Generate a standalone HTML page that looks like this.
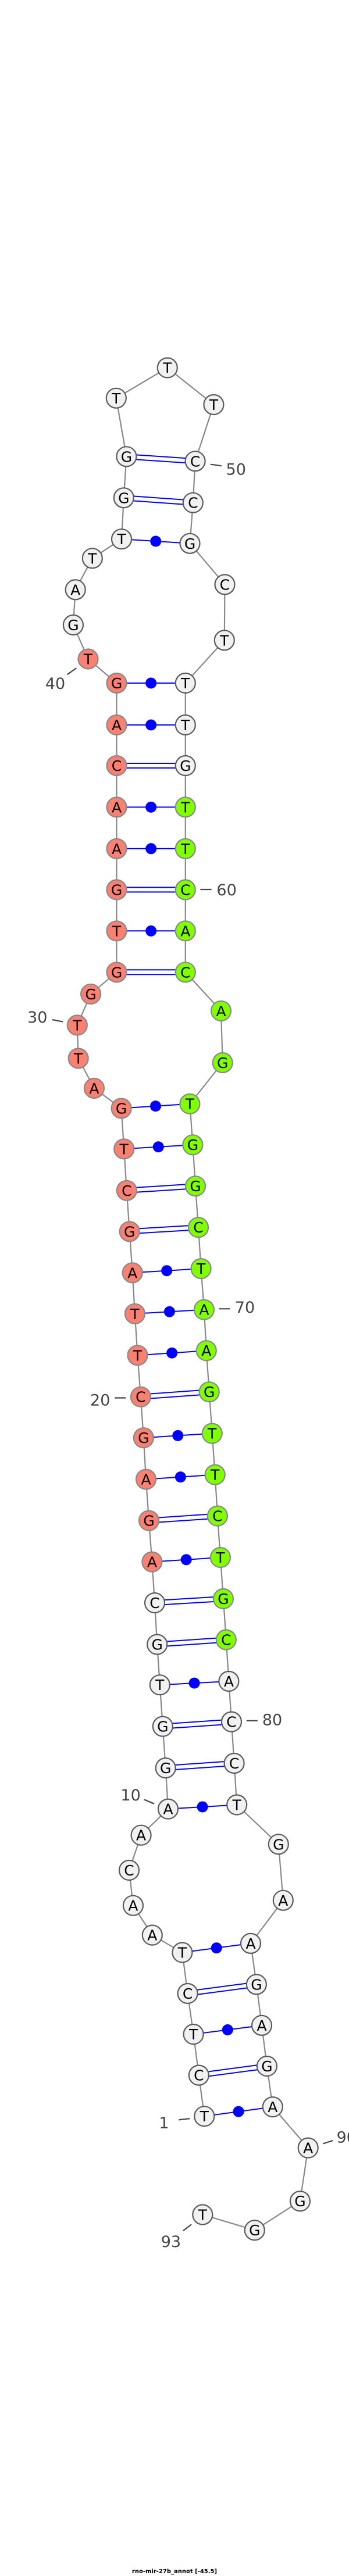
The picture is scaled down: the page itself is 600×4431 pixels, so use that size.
<!DOCTYPE html>
<html><head><meta charset="utf-8"><style>
html,body{margin:0;padding:0;background:#fff;}
svg{display:block;}
.bb{fill:none;stroke:#888;stroke-width:2.2;}
.p{stroke:#0000ff;stroke-width:2;}
.d{fill:#0000ff;}
.w{fill:#f1f1f1;stroke:#5a5a5a;stroke-width:2.2;}
.r{fill:#fa8072;stroke:#888;stroke-width:2.2;}
.g{fill:#7fff00;stroke:#888;stroke-width:2.2;}
.t{font-family:"DejaVu Sans","Liberation Sans",sans-serif;font-size:25px;text-anchor:middle;fill:#000;}
.l{font-family:"DejaVu Sans","Liberation Sans",sans-serif;font-size:27px;text-anchor:middle;fill:#444;}
.k{stroke:#444;stroke-width:2.2;}
.ti{font-family:"DejaVu Sans","Liberation Sans",sans-serif;font-size:10px;font-weight:bold;text-anchor:middle;fill:#000;}
</style></head><body>
<svg width="600" height="4431" viewBox="0 0 600 4431" xmlns="http://www.w3.org/2000/svg">
<polyline class="bb" points="351.3,3640.2 341.8,3569.6 332.6,3499.1 322.6,3429 313.4,3358.5 261.8,3328.6 228.9,3277.7 222,3217 242.6,3156.7 289,3111.6 284.7,3041.1 279.8,2969.6 274.8,2898.2 270.2,2828.6 266,2757.1 261.4,2686.6 256,2615.6 251,2544.6 246.8,2473.2 241.9,2402.7 236.5,2331.3 231.9,2259.8 227.7,2189.3 222.7,2118.3 217.8,2047.8 213.2,1976.3 208.6,1906.5 161.9,1871.9 134.7,1820.5 132.8,1763.4 156.1,1709.8 200.5,1672.3 200.5,1601.3 200.5,1530.4 200.5,1459.8 200.5,1388.4 200.5,1317 200.5,1247 200.5,1175 151.5,1133.5 125.9,1075 129.7,1014.3 158.8,960.3 209,927.2 212.8,856.3 217.4,785.3 199.8,684.8 287.8,632.6 367.4,696 335.6,793.3 331.8,864.7 326.5,934.8 386.5,1005.4 385.8,1101.3 318.8,1175 318.8,1247 318.8,1317 318.8,1388.4 318.8,1459.8 318.8,1530.4 318.8,1601.3 318.8,1672.3 380,1738.8 382.7,1828 326.4,1898.7 331.4,1969.2 336,2040.2 341,2111.2 345.6,2182.1 350.9,2252.7 354.8,2323.2 359.7,2394.2 364.7,2465.6 369.7,2536.6 373.9,2607.6 378.9,2679 383.9,2750 388.8,2820.5 393.4,2892 398,2961.6 402.6,3033 407.2,3104.5 478.8,3172.3 486.8,3268.8 431,3342.9 440.9,3413.4 450,3483.9 458.9,3554 468.8,3624.1 529.7,3694.6 515.9,3786.2 437.8,3836.2 348.3,3809.4"/>
<!-- single pairs -->
<g class="p">
<line x1="351.3" y1="3640.2" x2="468.8" y2="3624.1"/>
<line x1="332.6" y1="3499.1" x2="450" y2="3483.9"/>
<line x1="313.4" y1="3358.5" x2="431" y2="3342.9"/>
<line x1="289" y1="3111.6" x2="407.2" y2="3104.5"/>
<line x1="274.8" y1="2898.2" x2="393.4" y2="2892"/>
<line x1="261.4" y1="2686.6" x2="378.9" y2="2679"/>
<line x1="251" y1="2544.6" x2="369.7" y2="2536.6"/>
<line x1="246.8" y1="2473.2" x2="364.7" y2="2465.6"/>
<line x1="236.5" y1="2331.3" x2="354.8" y2="2323.2"/>
<line x1="231.9" y1="2259.8" x2="350.9" y2="2252.7"/>
<line x1="227.7" y1="2189.3" x2="345.6" y2="2182.1"/>
<line x1="213.2" y1="1976.3" x2="331.4" y2="1969.2"/>
<line x1="208.6" y1="1906.5" x2="326.4" y2="1898.7"/>
<line x1="200.5" y1="1601.3" x2="318.8" y2="1601.3"/>
<line x1="200.5" y1="1459.8" x2="318.8" y2="1459.8"/>
<line x1="200.5" y1="1388.4" x2="318.8" y2="1388.4"/>
<line x1="200.5" y1="1247" x2="318.8" y2="1247"/>
<line x1="200.5" y1="1175" x2="318.8" y2="1175"/>
<line x1="209" y1="927.2" x2="326.5" y2="934.8"/>
<!-- double pairs -->
<line x1="341.8" y1="3565.6" x2="458.9" y2="3550"/><line x1="341.8" y1="3573.6" x2="458.9" y2="3558"/>
<line x1="322.6" y1="3425" x2="440.9" y2="3409.4"/><line x1="322.6" y1="3433" x2="440.9" y2="3417.4"/>
<line x1="284.7" y1="3037.1" x2="402.6" y2="3029"/><line x1="284.7" y1="3045.1" x2="402.6" y2="3037"/>
<line x1="279.8" y1="2965.6" x2="398" y2="2957.6"/><line x1="279.8" y1="2973.6" x2="398" y2="2965.6"/>
<line x1="270.2" y1="2824.6" x2="388.8" y2="2816.5"/><line x1="270.2" y1="2832.6" x2="388.8" y2="2824.5"/>
<line x1="266" y1="2753.1" x2="383.9" y2="2746"/><line x1="266" y1="2761.1" x2="383.9" y2="2754"/>
<line x1="256" y1="2611.6" x2="373.9" y2="2603.6"/><line x1="256" y1="2619.6" x2="373.9" y2="2611.6"/>
<line x1="241.9" y1="2398.7" x2="359.7" y2="2390.2"/><line x1="241.9" y1="2406.7" x2="359.7" y2="2398.2"/>
<line x1="222.7" y1="2114.3" x2="341" y2="2107.2"/><line x1="222.7" y1="2122.3" x2="341" y2="2115.2"/>
<line x1="217.8" y1="2043.8" x2="336" y2="2036.2"/><line x1="217.8" y1="2051.8" x2="336" y2="2044.2"/>
<line x1="200.5" y1="1668.3" x2="318.8" y2="1668.3"/><line x1="200.5" y1="1676.3" x2="318.8" y2="1676.3"/>
<line x1="200.5" y1="1526.4" x2="318.8" y2="1526.4"/><line x1="200.5" y1="1534.4" x2="318.8" y2="1534.4"/>
<line x1="200.5" y1="1313" x2="318.8" y2="1313"/><line x1="200.5" y1="1321" x2="318.8" y2="1321"/>
<line x1="212.8" y1="852.3" x2="331.8" y2="860.7"/><line x1="212.8" y1="860.3" x2="331.8" y2="868.7"/>
<line x1="217.4" y1="781.3" x2="335.6" y2="789.3"/><line x1="217.4" y1="789.3" x2="335.6" y2="797.3"/>
</g>
<g class="d">
<circle cx="410.05" cy="3632.15" r="9.5"/>
<circle cx="391.3" cy="3491.5" r="9.5"/>
<circle cx="372.2" cy="3350.7" r="9.5"/>
<circle cx="348.1" cy="3108" r="9.5"/>
<circle cx="334.1" cy="2895.1" r="9.5"/>
<circle cx="320.15" cy="2682.8" r="9.5"/>
<circle cx="310.35" cy="2540.6" r="9.5"/>
<circle cx="305.75" cy="2469.4" r="9.5"/>
<circle cx="295.65" cy="2327.25" r="9.5"/>
<circle cx="291.4" cy="2256.25" r="9.5"/>
<circle cx="286.65" cy="2185.7" r="9.5"/>
<circle cx="272.3" cy="1972.75" r="9.5"/>
<circle cx="267.5" cy="1902.6" r="9.5"/>
<circle cx="259.65" cy="1601.3" r="9.5"/>
<circle cx="259.65" cy="1459.8" r="9.5"/>
<circle cx="259.65" cy="1388.4" r="9.5"/>
<circle cx="259.65" cy="1247" r="9.5"/>
<circle cx="259.65" cy="1175" r="9.5"/>
<circle cx="267.75" cy="931" r="9.5"/>
</g>
<!-- nodes -->
<g>
<circle class="w" cx="351.3" cy="3640.2" r="17"/><text class="t" x="351.3" y="3649.2">T</text>
<circle class="w" cx="341.8" cy="3569.6" r="17"/><text class="t" x="341.8" y="3578.6">C</text>
<circle class="w" cx="332.6" cy="3499.1" r="17"/><text class="t" x="332.6" y="3508.1">T</text>
<circle class="w" cx="322.6" cy="3429" r="17"/><text class="t" x="322.6" y="3438">C</text>
<circle class="w" cx="313.4" cy="3358.5" r="17"/><text class="t" x="313.4" y="3367.5">T</text>
<circle class="w" cx="261.8" cy="3328.6" r="17"/><text class="t" x="261.8" y="3337.6">A</text>
<circle class="w" cx="228.9" cy="3277.7" r="17"/><text class="t" x="228.9" y="3286.7">A</text>
<circle class="w" cx="222" cy="3217" r="17"/><text class="t" x="222" y="3226">C</text>
<circle class="w" cx="242.6" cy="3156.7" r="17"/><text class="t" x="242.6" y="3165.7">A</text>
<circle class="w" cx="289" cy="3111.6" r="17"/><text class="t" x="289" y="3120.6">A</text>
<circle class="w" cx="284.7" cy="3041.1" r="17"/><text class="t" x="284.7" y="3050.1">G</text>
<circle class="w" cx="279.8" cy="2969.6" r="17"/><text class="t" x="279.8" y="2978.6">G</text>
<circle class="w" cx="274.8" cy="2898.2" r="17"/><text class="t" x="274.8" y="2907.2">T</text>
<circle class="w" cx="270.2" cy="2828.6" r="17"/><text class="t" x="270.2" y="2837.6">G</text>
<circle class="w" cx="266" cy="2757.1" r="17"/><text class="t" x="266" y="2766.1">C</text>
<circle class="r" cx="261.4" cy="2686.6" r="17"/><text class="t" x="261.4" y="2695.6">A</text>
<circle class="r" cx="256" cy="2615.6" r="17"/><text class="t" x="256" y="2624.6">G</text>
<circle class="r" cx="251" cy="2544.6" r="17"/><text class="t" x="251" y="2553.6">A</text>
<circle class="r" cx="246.8" cy="2473.2" r="17"/><text class="t" x="246.8" y="2482.2">G</text>
<circle class="r" cx="241.9" cy="2402.7" r="17"/><text class="t" x="241.9" y="2411.7">C</text>
<circle class="r" cx="236.5" cy="2331.3" r="17"/><text class="t" x="236.5" y="2340.3">T</text>
<circle class="r" cx="231.9" cy="2259.8" r="17"/><text class="t" x="231.9" y="2268.8">T</text>
<circle class="r" cx="227.7" cy="2189.3" r="17"/><text class="t" x="227.7" y="2198.3">A</text>
<circle class="r" cx="222.7" cy="2118.3" r="17"/><text class="t" x="222.7" y="2127.3">G</text>
<circle class="r" cx="217.8" cy="2047.8" r="17"/><text class="t" x="217.8" y="2056.8">C</text>
<circle class="r" cx="213.2" cy="1976.3" r="17"/><text class="t" x="213.2" y="1985.3">T</text>
<circle class="r" cx="208.6" cy="1906.5" r="17"/><text class="t" x="208.6" y="1915.5">G</text>
<circle class="r" cx="161.9" cy="1871.9" r="17"/><text class="t" x="161.9" y="1880.9">A</text>
<circle class="r" cx="134.7" cy="1820.5" r="17"/><text class="t" x="134.7" y="1829.5">T</text>
<circle class="r" cx="132.8" cy="1763.4" r="17"/><text class="t" x="132.8" y="1772.4">T</text>
<circle class="r" cx="156.1" cy="1709.8" r="17"/><text class="t" x="156.1" y="1718.8">G</text>
<circle class="r" cx="200.5" cy="1672.3" r="17"/><text class="t" x="200.5" y="1681.3">G</text>
<circle class="r" cx="200.5" cy="1601.3" r="17"/><text class="t" x="200.5" y="1610.3">T</text>
<circle class="r" cx="200.5" cy="1530.4" r="17"/><text class="t" x="200.5" y="1539.4">G</text>
<circle class="r" cx="200.5" cy="1459.8" r="17"/><text class="t" x="200.5" y="1468.8">A</text>
<circle class="r" cx="200.5" cy="1388.4" r="17"/><text class="t" x="200.5" y="1397.4">A</text>
<circle class="r" cx="200.5" cy="1317" r="17"/><text class="t" x="200.5" y="1326">C</text>
<circle class="r" cx="200.5" cy="1247" r="17"/><text class="t" x="200.5" y="1256">A</text>
<circle class="r" cx="200.5" cy="1175" r="17"/><text class="t" x="200.5" y="1184">G</text>
<circle class="r" cx="151.5" cy="1133.5" r="17"/><text class="t" x="151.5" y="1142.5">T</text>
<circle class="w" cx="125.9" cy="1075" r="17"/><text class="t" x="125.9" y="1084">G</text>
<circle class="w" cx="129.7" cy="1014.3" r="17"/><text class="t" x="129.7" y="1023.3">A</text>
<circle class="w" cx="158.8" cy="960.3" r="17"/><text class="t" x="158.8" y="969.3">T</text>
<circle class="w" cx="209" cy="927.2" r="17"/><text class="t" x="209" y="936.2">T</text>
<circle class="w" cx="212.8" cy="856.3" r="17"/><text class="t" x="212.8" y="865.3">G</text>
<circle class="w" cx="217.4" cy="785.3" r="17"/><text class="t" x="217.4" y="794.3">G</text>
<circle class="w" cx="199.8" cy="684.8" r="17"/><text class="t" x="199.8" y="693.8">T</text>
<circle class="w" cx="287.8" cy="632.6" r="17"/><text class="t" x="287.8" y="641.6">T</text>
<circle class="w" cx="367.4" cy="696" r="17"/><text class="t" x="367.4" y="705">T</text>
<circle class="w" cx="335.6" cy="793.3" r="17"/><text class="t" x="335.6" y="802.3">C</text>
<circle class="w" cx="331.8" cy="864.7" r="17"/><text class="t" x="331.8" y="873.7">C</text>
<circle class="w" cx="326.5" cy="934.8" r="17"/><text class="t" x="326.5" y="943.8">G</text>
<circle class="w" cx="386.5" cy="1005.4" r="17"/><text class="t" x="386.5" y="1014.4">C</text>
<circle class="w" cx="385.8" cy="1101.3" r="17"/><text class="t" x="385.8" y="1110.3">T</text>
<circle class="w" cx="318.8" cy="1175" r="17"/><text class="t" x="318.8" y="1184">T</text>
<circle class="w" cx="318.8" cy="1247" r="17"/><text class="t" x="318.8" y="1256">T</text>
<circle class="w" cx="318.8" cy="1317" r="17"/><text class="t" x="318.8" y="1326">G</text>
<circle class="g" cx="318.8" cy="1388.4" r="17"/><text class="t" x="318.8" y="1397.4">T</text>
<circle class="g" cx="318.8" cy="1459.8" r="17"/><text class="t" x="318.8" y="1468.8">T</text>
<circle class="g" cx="318.8" cy="1530.4" r="17"/><text class="t" x="318.8" y="1539.4">C</text>
<circle class="g" cx="318.8" cy="1601.3" r="17"/><text class="t" x="318.8" y="1610.3">A</text>
<circle class="g" cx="318.8" cy="1672.3" r="17"/><text class="t" x="318.8" y="1681.3">C</text>
<circle class="g" cx="380" cy="1738.8" r="17"/><text class="t" x="380" y="1747.8">A</text>
<circle class="g" cx="382.7" cy="1828" r="17"/><text class="t" x="382.7" y="1837">G</text>
<circle class="g" cx="326.4" cy="1898.7" r="17"/><text class="t" x="326.4" y="1907.7">T</text>
<circle class="g" cx="331.4" cy="1969.2" r="17"/><text class="t" x="331.4" y="1978.2">G</text>
<circle class="g" cx="336" cy="2040.2" r="17"/><text class="t" x="336" y="2049.2">G</text>
<circle class="g" cx="341" cy="2111.2" r="17"/><text class="t" x="341" y="2120.2">C</text>
<circle class="g" cx="345.6" cy="2182.1" r="17"/><text class="t" x="345.6" y="2191.1">T</text>
<circle class="g" cx="350.9" cy="2252.7" r="17"/><text class="t" x="350.9" y="2261.7">A</text>
<circle class="g" cx="354.8" cy="2323.2" r="17"/><text class="t" x="354.8" y="2332.2">A</text>
<circle class="g" cx="359.7" cy="2394.2" r="17"/><text class="t" x="359.7" y="2403.2">G</text>
<circle class="g" cx="364.7" cy="2465.6" r="17"/><text class="t" x="364.7" y="2474.6">T</text>
<circle class="g" cx="369.7" cy="2536.6" r="17"/><text class="t" x="369.7" y="2545.6">T</text>
<circle class="g" cx="373.9" cy="2607.6" r="17"/><text class="t" x="373.9" y="2616.6">C</text>
<circle class="g" cx="378.9" cy="2679" r="17"/><text class="t" x="378.9" y="2688">T</text>
<circle class="g" cx="383.9" cy="2750" r="17"/><text class="t" x="383.9" y="2759">G</text>
<circle class="g" cx="388.8" cy="2820.5" r="17"/><text class="t" x="388.8" y="2829.5">C</text>
<circle class="w" cx="393.4" cy="2892" r="17"/><text class="t" x="393.4" y="2901">A</text>
<circle class="w" cx="398" cy="2961.6" r="17"/><text class="t" x="398" y="2970.6">C</text>
<circle class="w" cx="402.6" cy="3033" r="17"/><text class="t" x="402.6" y="3042">C</text>
<circle class="w" cx="407.2" cy="3104.5" r="17"/><text class="t" x="407.2" y="3113.5">T</text>
<circle class="w" cx="478.8" cy="3172.3" r="17"/><text class="t" x="478.8" y="3181.3">G</text>
<circle class="w" cx="486.8" cy="3268.8" r="17"/><text class="t" x="486.8" y="3277.8">A</text>
<circle class="w" cx="431" cy="3342.9" r="17"/><text class="t" x="431" y="3351.9">A</text>
<circle class="w" cx="440.9" cy="3413.4" r="17"/><text class="t" x="440.9" y="3422.4">G</text>
<circle class="w" cx="450" cy="3483.9" r="17"/><text class="t" x="450" y="3492.9">A</text>
<circle class="w" cx="458.9" cy="3554" r="17"/><text class="t" x="458.9" y="3563">G</text>
<circle class="w" cx="468.8" cy="3624.1" r="17"/><text class="t" x="468.8" y="3633.1">A</text>
<circle class="w" cx="529.7" cy="3694.6" r="17"/><text class="t" x="529.7" y="3703.6">A</text>
<circle class="w" cx="515.9" cy="3786.2" r="17"/><text class="t" x="515.9" y="3795.2">G</text>
<circle class="w" cx="437.8" cy="3836.2" r="17"/><text class="t" x="437.8" y="3845.2">G</text>
<circle class="w" cx="348.3" cy="3809.4" r="17"/><text class="t" x="348.3" y="3818.4">T</text>
</g>
<!-- labels -->
<g>
<line class="k" x1="361.7" y1="798.7" x2="380.8" y2="801.3"/><text class="l" x="405.7" y="816.7">50</text>
<line class="k" x1="115.6" y1="1160.3" x2="131.3" y2="1149.1"/><text class="l" x="95" y="1185">40</text>
<line class="k" x1="344.4" y1="1530" x2="363.6" y2="1530"/><text class="l" x="389.6" y="1540">60</text>
<line class="k" x1="90" y1="1754" x2="108.3" y2="1757.6"/><text class="l" x="64.3" y="1759">30</text>
<line class="k" x1="376.2" y1="2251.3" x2="395.3" y2="2251.3"/><text class="l" x="421" y="2258">70</text>
<line class="k" x1="197.1" y1="2404.5" x2="216.2" y2="2404.5"/><text class="l" x="172.2" y="2417.6">20</text>
<line class="k" x1="423.7" y1="2959.8" x2="442.8" y2="2959.8"/><text class="l" x="468" y="2967.6">80</text>
<line class="k" x1="248" y1="3095.5" x2="265.2" y2="3102.7"/><text class="l" x="224.6" y="3097">10</text>
<line class="k" x1="307.3" y1="3646.4" x2="326.4" y2="3644.2"/><text class="l" x="282" y="3660.9">1</text>
<line class="k" x1="555" y1="3687.5" x2="572" y2="3682.1"/><text class="l" x="578.6" y="3685.4" style="text-anchor:start">90</text>
<line class="k" x1="315" y1="3837" x2="329.1" y2="3826.3"/><text class="l" x="293.9" y="3864.9">93</text>
</g>
<text class="ti" x="300" y="4426">rno-mir-27b_annot [-45.5]</text>
</svg>
</body></html>
